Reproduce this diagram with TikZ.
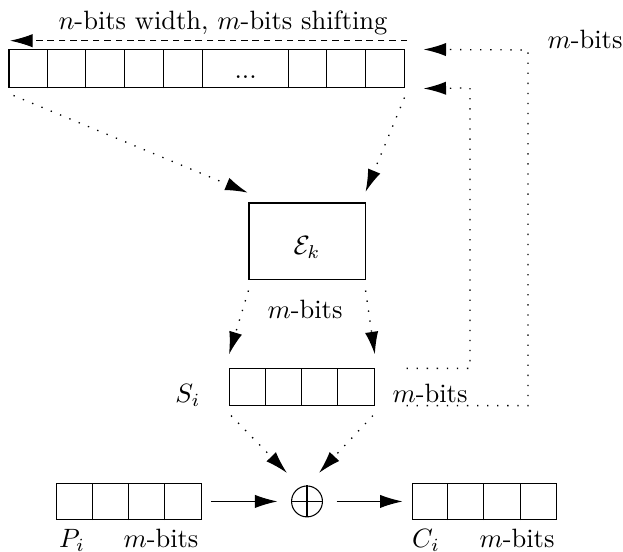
\documentclass[tikz,border=0pt]{standalone}
\usepackage{amsmath}
\usetikzlibrary{calc, arrows.meta}

\begin{document}
\begin{tikzpicture}
    [
      >={Latex[length=8.5pt,width=5pt]},
      reg/.style={draw, inner sep=0pt, minimum width=1.92cm, minimum height=0.48cm},
      lbl/.style={anchor=base},
      feed/.style={line width=0.5pt, dash pattern=on 0.5pt off 3.3pt},
      shiftline/.style={dash pattern=on 2.5pt off 1.8pt}
    ]
    \useasboundingbox (0,0) rectangle (8.263,7.321);
    % shift register
    \node [reg, minimum width=5.252cm, minimum height=0.504cm] (sr) at (2.745,6.406) {};
    \foreach \x in {0.514,1.028,1.542,2.056,2.570,3.709,4.223,4.737} {
        \draw ([xshift=\x cm]sr.south west) -- ([xshift=\x cm]sr.north west);
    }
    \node [lbl] (dots) at (3.258,6.276) {...};
    \node [lbl] (title) at (2.958,6.923) {$n$-bits width, $m$-bits shifting};
    \coordinate (shr) at (5.40,6.781);
    \coordinate (shl) at (0.133,6.781);
    \draw [shiftline,->] (shr) -- (shl);
    \node [lbl] (mtop) at (7.759,6.684) {$m$-bits};
    % encryption
    \node [draw, minimum width=1.539cm, minimum height=1.021cm, text height=10pt, text depth=0pt]
    (enc) at (4.072,4.118) {$\mathcal{E}_k$};
    \draw [feed,->] ([shift={(0.067,-0.093)}]sr.south west) -- ([shift={(-0.01,0.13)}]enc.north west);
    \draw [feed,->] ([shift={(-0.013,-0.12)}]sr.south east) -- ([shift={(0,0.14)}]enc.north east);
    \node [lbl] (mmid) at (4.045,3.103) {$m$-bits};
    % keystream block
    \node [reg] (si) at (4.005,2.188) {};
    \node [lbl] (silbl) at (2.493,1.98) {$S_i$};
    \node [lbl] (mright) at (5.703,1.98) {$m$-bits};
    \draw [feed,->] ([yshift=-0.133cm]enc.south west) -- ([yshift=0.186cm]si.north west);
    \draw [feed,->] ([yshift=-0.133cm]enc.south east) -- ([yshift=0.186cm]si.north east);
    % feedback
    \coordinate (up) at (7.003,6.658);
    \coordinate (lo) at (6.233,6.154);
    \draw [feed,->] ([xshift=0.42cm]si.south east) -| (up) -- ([xshift=0.239cm]sr.north east);
    \draw [feed,->] ([xshift=0.42cm]si.north east) -| (lo) -- ([xshift=0.239cm]sr.south east);
    % xor
    \node [draw, circle, minimum size=0.41cm, inner sep=0pt] (xor) at (4.072,0.67) {};
    \draw (xor.north) -- (xor.south) (xor.west) -- (xor.east);
    \draw [feed,->] ([shift={(0.027,-0.133)}]si.south west) -- ([shift={(-0.266,0.378)}]xor.center);
    \draw [feed,->] ([shift={(-0.027,-0.133)}]si.south east) -- ([shift={(0.159,0.378)}]xor.center);
    % plaintext and ciphertext
    \node [reg] (pi) at (1.712,0.67) {};
    \node [reg] (ci) at (6.426,0.67) {};
    \foreach \r in {si,pi,ci} {
        \foreach \k in {1,2,3} {
            \draw ([xshift=\k*0.48cm]\r.south west) -- ([xshift=\k*0.48cm]\r.north west);
        }
    }
    \node [lbl] (pilbl) at (0.955,0.053) {$P_i$};
    \node [lbl] (mp) at (2.135,0.053) {$m$-bits};
    \node [lbl] (cilbl) at (5.650,0.053) {$C_i$};
    \node [lbl] (mc) at (6.857,0.053) {$m$-bits};
    \draw [->] ([xshift=0.119cm]pi.east) -- ([xshift=-0.18cm]xor.west);
    \draw [->] ([xshift=0.18cm]xor.east) -- ([xshift=-0.119cm]ci.west);
\end{tikzpicture}
\end{document}
